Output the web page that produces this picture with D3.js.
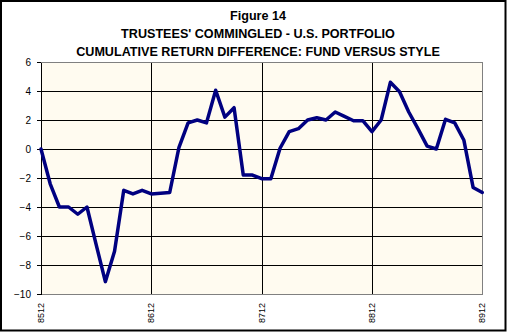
<!DOCTYPE html>
<html>
<head>
<meta charset="utf-8">
<script src="https://cdn.jsdelivr.net/npm/d3@7"></script>
<style>
  html, body { margin: 0; padding: 0; background: #fff; }
  svg { display: block; }
  text { font-family: Arial, "Liberation Sans", sans-serif; }
</style>
</head>
<body>
<script>
const titleLines = [
  "Figure 14",
  "TRUSTEES' COMMINGLED - U.S. PORTFOLIO",
  "CUMULATIVE RETURN DIFFERENCE: FUND VERSUS STYLE"
];

const months = [
  "8512","8601","8602","8603","8604","8605","8606","8607","8608","8609","8610","8611",
  "8612","8701","8702","8703","8704","8705","8706","8707","8708","8709","8710","8711",
  "8712","8801","8802","8803","8804","8805","8806","8807","8808","8809","8810","8811",
  "8812","8901","8902","8903","8904","8905","8906","8907","8908","8909","8910","8911",
  "8912"
];

const returnDiff = [
  0.0, -2.4, -4.0, -4.0, -4.5, -4.0, -6.6, -9.15, -7.05, -2.85, -3.1, -2.85,
  -3.1, -3.05, -3.0, 0.1, 1.8, 2.0, 1.8, 4.05, 2.2, 2.85, -1.8, -1.8,
  -2.05, -2.05, 0.05, 1.2, 1.4, 2.0, 2.15, 2.0, 2.55, 2.25, 1.95, 1.95,
  1.2, 2.0, 4.6, 3.95, 2.55, 1.4, 0.2, 0.0, 2.05, 1.8, 0.6, -2.65,
  -3.0
];

const xTickLabels = ["8512","8612","8712","8812","8912"];
const yTicks = [-10, -8, -6, -4, -2, 0, 2, 4, 6];

const W = 507, H = 333;
const plot = { left: 41, right: 482.3, top: 62, bottom: 294 };

const svg = d3.select("body").append("svg")
  .attr("width", W).attr("height", H);

// outer frame
svg.append("rect")
  .attr("x", 1).attr("y", 1)
  .attr("width", W - 2.5).attr("height", H - 3.5)
  .attr("fill", "#fff").attr("stroke", "#000").attr("stroke-width", 2);

// title
svg.append("g").selectAll("text").data(titleLines).join("text")
  .attr("x", 258).attr("y", (d, i) => 19.5 + i * 18)
  .attr("text-anchor", "middle")
  .attr("font-size", 12.6).attr("font-weight", "bold")
  .attr("fill", "#000")
  .text(d => d);

const x = d3.scalePoint().domain(months).range([plot.left, plot.right]).padding(0);
const y = d3.scaleLinear().domain([-10, 6]).range([plot.bottom, plot.top]);

// plot background
svg.append("rect")
  .attr("x", plot.left).attr("y", plot.top)
  .attr("width", plot.right - plot.left).attr("height", plot.bottom - plot.top)
  .attr("fill", "#FFFBF0");

// horizontal gridlines
const gy = svg.append("g")
  .attr("transform", `translate(${plot.left},0)`)
  .call(d3.axisLeft(y).tickValues(yTicks.filter(v => v > -10 && v < 6))
    .tickSize(-(plot.right - plot.left)).tickFormat(""));
gy.select(".domain").remove();
gy.selectAll("line").attr("stroke", "#000").attr("shape-rendering", "crispEdges");

// vertical gridlines
const gx = svg.append("g")
  .attr("transform", `translate(0,${plot.bottom})`)
  .call(d3.axisBottom(x).tickValues(xTickLabels.slice(1, -1))
    .tickSize(-(plot.bottom - plot.top)).tickFormat(""));
gx.select(".domain").remove();
gx.selectAll("line").attr("stroke", "#000").attr("shape-rendering", "crispEdges");

// plot border (gray top/right/bottom)
svg.append("rect")
  .attr("x", plot.left).attr("y", plot.top)
  .attr("width", plot.right - plot.left).attr("height", plot.bottom - plot.top)
  .attr("fill", "none").attr("stroke", "#808080").attr("shape-rendering", "crispEdges");

// y axis
const ya = svg.append("g")
  .attr("transform", `translate(${plot.left},0)`)
  .call(d3.axisLeft(y).tickValues(yTicks).tickSize(4).tickPadding(6).tickSizeOuter(0));
ya.select(".domain").attr("stroke", "#000").attr("shape-rendering", "crispEdges");
ya.selectAll("line").attr("stroke", "#000").attr("shape-rendering", "crispEdges");
ya.selectAll("text").attr("font-size", 10).attr("font-family", "Arial, 'Liberation Sans', sans-serif").attr("fill", "#000");

// x axis labels (rotated)
const xa = svg.append("g")
  .attr("transform", `translate(0,${plot.bottom})`)
  .call(d3.axisBottom(x).tickValues(xTickLabels).tickSize(0).tickPadding(0));
xa.select(".domain").remove();
xa.selectAll("text")
  .attr("font-size", 9)
  .attr("font-family", "Arial, 'Liberation Sans', sans-serif")
  .attr("fill", "#000")
  .attr("text-anchor", "end")
  .attr("dy", null)
  .attr("transform", "translate(2.5,9) rotate(-90)");

// line
const line = d3.line()
  .x((d, i) => x(months[i]))
  .y(d => y(d));
svg.append("path")
  .datum(returnDiff)
  .attr("d", line)
  .attr("fill", "none")
  .attr("stroke", "#000080")
  .attr("stroke-width", 3.5)
  .attr("stroke-linejoin", "round")
  .attr("stroke-linecap", "round");
</script>
</body>
</html>
